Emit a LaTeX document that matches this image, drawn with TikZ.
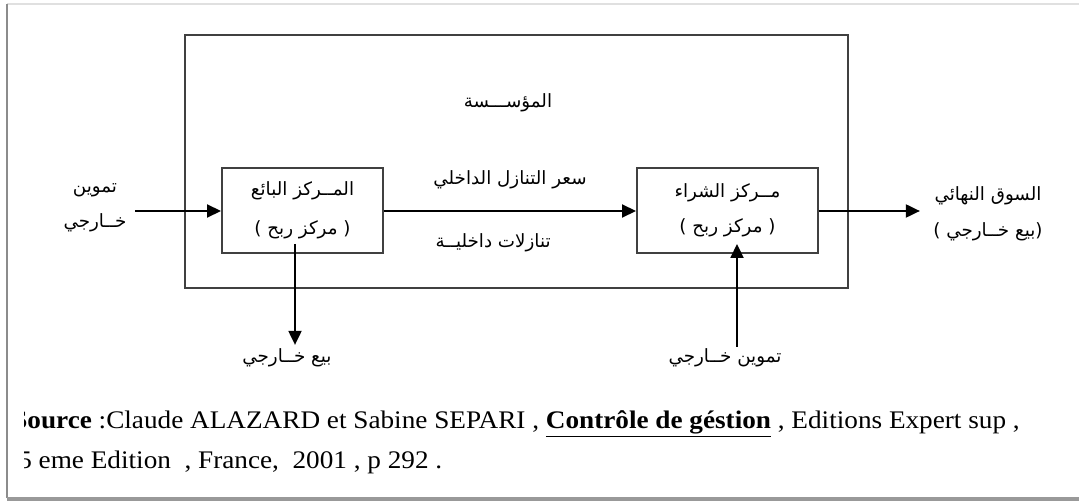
\documentclass[tikz,border=0pt]{standalone}
\usepackage{fontspec}
\setmainfont{Liberation Serif}
\newfontfamily\arabicfont[Script=Arabic]{DejaVu Sans}
\TeXXeTstate=1
\usetikzlibrary{arrows.meta,positioning}
\newcommand{\artexte}[1]{{\arabicfont\beginR #1\endR}}

\begin{document}
\begin{tikzpicture}[
    x=0.025cm,
    y=-0.025cm,
    >={Triangle[length=10pt,width=9pt]},
    boite/.style={
        rectangle,
        draw=black!75,
        line width=1.2pt,
        inner sep=0pt,
        align=center,
        font=\arabicfont\fontsize{13}{15}\selectfont
    },
    fleche/.style={
        ->,
        line width=2pt
    },
    etiquette/.style={
        font=\arabicfont\fontsize{13}{15}\selectfont,
        inner sep=1pt,
        align=center
    },
    source/.style={
        font=\fontsize{18}{21}\selectfont,
        anchor=west,
        inner sep=0pt,
        xscale=1.075
    }
]

\useasboundingbox (0,0) rectangle (1079,504);

% Frame
\draw[black!12, line width=1pt] (7,4) -- (1079,4);
\draw[black!45, line width=1.5pt] (7,4) -- (7,498);
\draw[black!40, line width=3pt] (7,499) -- (1079,499);

% Enterprise
\node[boite, minimum width=16.575cm, minimum height=6.325cm] (entreprise) at (516.5,161.5) {};
\node[etiquette] (titre) at (508,103) {\artexte{المؤســـسة}};

% Profit centres
\node[boite, minimum width=4.025cm, minimum height=2.125cm] (vendeur) at (302.5,210.5)
{\artexte{المــركز البائع}\\[13pt] \artexte{( مركز ربح )}};
\node[boite, minimum width=4.525cm, minimum height=2.125cm] (acheteur) at (727.5,210.5)
{\artexte{مــركز الشراء}\\[10pt] \artexte{( مركز ربح )}};

% Outside
\coordinate (entree) at (135,211);
\coordinate (sortie) at (920,211);
\coordinate (vente) at (295,345);
\coordinate (appro) at (737,347);

\node[etiquette] (tamwin) at (95,208) {\artexte{تموين}\\[10pt] \artexte{خــارجي}};
\node[etiquette] (marche) at (988,214) {\artexte{السوق النهائي}\\[11pt] \artexte{(بيع خــارجي )}};
\node[etiquette] (venteext) at (287,358) {\artexte{بيع خــارجي}};
\node[etiquette] (approext) at (725,358) {\artexte{تموين خــارجي}};

% Flows
\draw[fleche] (entree) -- (vendeur.west |- entree);
\draw[fleche] (vendeur.east |- entree) --
    node[etiquette, above=14pt] (prix) {\artexte{سعر التنازل الداخلي}}
    node[etiquette, below=14pt, xshift=-12] (cessions) {\artexte{تنازلات داخليــة}}
    (acheteur.west |- entree);
\draw[fleche] (acheteur.east |- entree) -- (sortie);
\draw[fleche] (vendeur.south -| vente) ++(0,-10) -- (vente);
\draw[fleche, shorten >=-0.25cm] (appro) -- (acheteur.south -| appro);

% Source
\begin{scope}
\clip (24,390) rectangle (1079,490);
\node[source] (ligne1) at (12,424) {\textbf{Source} :Claude ALAZARD et Sabine SEPARI , \underline{\textbf{Contrôle de géstion}} , Editions Expert sup ,};
\node[source] (ligne2) at (18,462) {5 eme Edition\ \ , France,\ \ 2001 , p 292 .};
\end{scope}

\end{tikzpicture}
\end{document}
